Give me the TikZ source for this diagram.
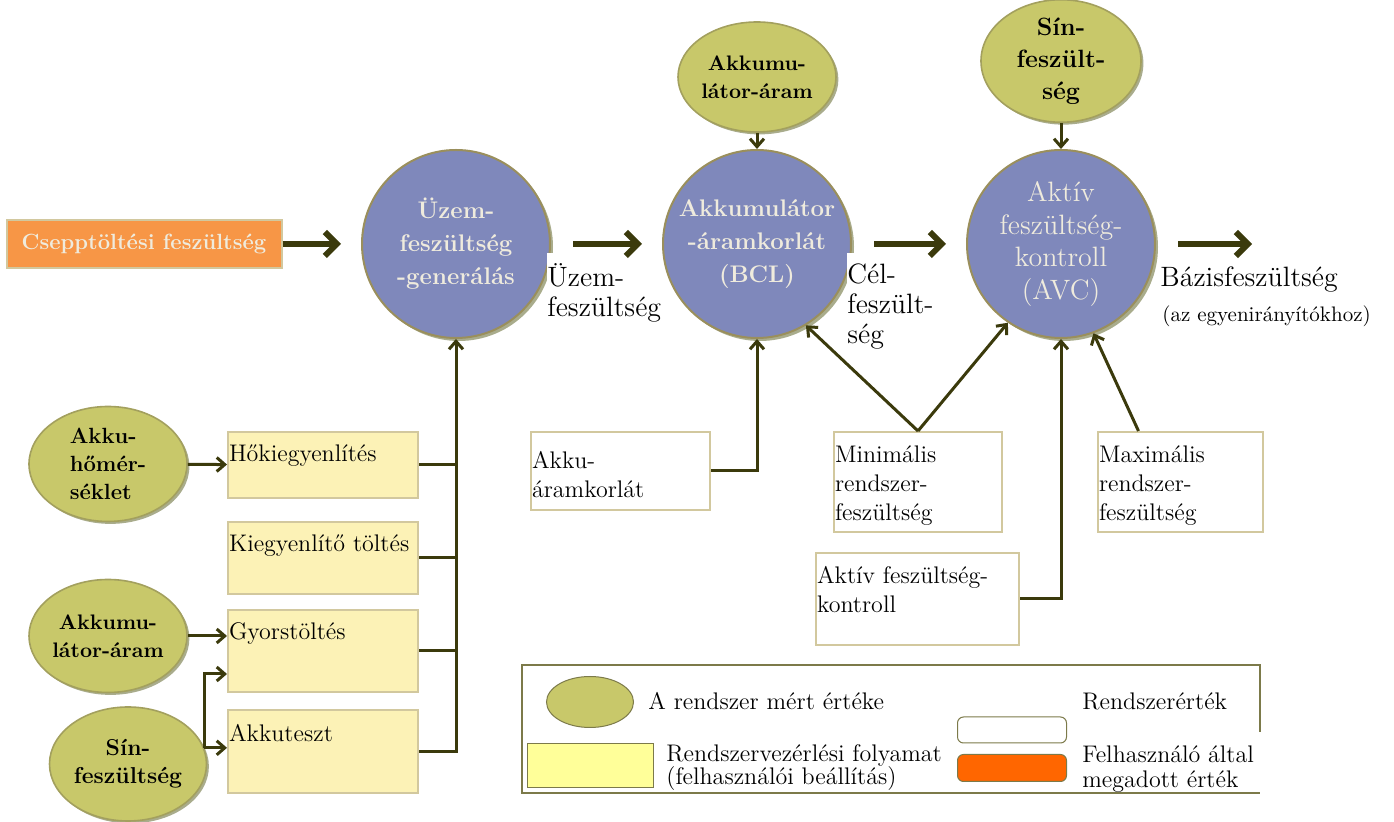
\documentclass[tikz,border=0pt]{standalone}
\usepackage{fontspec}
\usetikzlibrary{positioning,shapes.geometric,shadows,arrows.meta}

\definecolor{arrowc}{HTML}{3B3A0C}
\definecolor{procfill}{HTML}{7F88BB}
\definecolor{procedge}{HTML}{9A8F5C}
\definecolor{proctext}{HTML}{EFEBDD}
\definecolor{measfill}{HTML}{C8C86A}
\definecolor{measedge}{HTML}{A3A05E}
\definecolor{shadowc}{HTML}{A9AC8C}
\definecolor{userfill}{HTML}{F79646}
\definecolor{ctrlfill}{HTML}{FCF2B6}
\definecolor{boxedge}{HTML}{D2C89E}
\definecolor{legedge}{HTML}{7C7A4A}
\definecolor{legyellow}{HTML}{FFFF99}
\definecolor{legorange}{HTML}{FF6600}

\newcommand{\boxtext}[4]{\parbox[c][#2][t]{#1}{\raggedright\vspace*{#3}#4}}
\newcommand{\boxfont}{\fontsize{12}{14.5}\selectfont}
\newcommand{\lblfont}{\fontsize{14}{15}\selectfont}
\newcommand{\legfont}{\fontsize{12}{12.5}\selectfont}

\tikzset{
  proc/.style={circle, fill=procfill, draw=procedge, line width=1pt, minimum size=94pt,
    inner sep=0pt, text=proctext, align=center,
    drop shadow={shadow xshift=1.5pt, shadow yshift=-1.5pt, fill=shadowc, opacity=1}},
  meas/.style={ellipse, fill=measfill, draw=measedge, line width=0.8pt, inner sep=0pt,
    align=center, font=\fontsize{11}{14}\selectfont\bfseries,
    drop shadow={shadow xshift=1.2pt, shadow yshift=-1.2pt, fill=shadowc, opacity=1}},
  userval/.style={rectangle, fill=userfill, draw=boxedge, line width=1pt, text=proctext,
    font=\fontsize{11}{13}\selectfont\bfseries},
  ctrl/.style={rectangle, fill=ctrlfill, draw=boxedge, line width=1pt, anchor=north west,
    inner xsep=0.5pt, inner ysep=0pt, font=\boxfont},
  sysval/.style={rectangle, fill=white, draw=boxedge, line width=1pt, anchor=north west,
    inner xsep=0.5pt, inner ysep=0pt, font=\boxfont},
  lbl/.style={font=\lblfont, align=left, fill=white, inner xsep=0pt, inner ysep=5pt, anchor=north west},
  conn/.style={draw=arrowc, line width=1.5pt},
  smallarrow/.style={conn, -{Straight Barb[length=4pt,width=7pt]}},
  bigarrow/.style={draw=arrowc, line width=3pt, -{Straight Barb[length=6pt,width=12pt]}},
  legtext/.style={font=\legfont, anchor=base west, inner sep=0pt}
}

\begin{document}
\begin{tikzpicture}[x=0.5pt,y=-0.5pt]
\useasboundingbox (0,0) rectangle (1394,822);

\node[proc, font=\fontsize{12}{16.5}\selectfont\bfseries] (gen) at (456,244) {Üzem-\\feszültség\\-generálás};
\node[proc, font=\fontsize{12}{16.5}\selectfont\bfseries] (bcl) at (757,244) {Akkumulátor\\-áramkorlát\\(BCL)};
\node[proc, font=\fontsize{14}{16.3}\selectfont] (avc) at (1061,244) {Aktív\\feszültség-\\kontroll\\(AVC)};

\node[meas, minimum width=79pt, minimum height=55pt, font=\fontsize{10.5}{14}\selectfont\bfseries] (akkutop) at (757,77) {Akkumu-\\látor-áram};
\node[meas, minimum width=80pt, minimum height=56pt, font=\fontsize{12.5}{16}\selectfont\bfseries] (sintop) at (1061,61) {Sín-\\feszült-\\ség};
\node[meas, minimum width=79pt, minimum height=57.5pt, align=left] (hom) at (108,464) {Akku-\\hőmér-\\séklet};
\node[meas, minimum width=79pt, minimum height=56.5pt, font=\fontsize{10.5}{14}\selectfont\bfseries] (aram) at (108,636) {Akkumu-\\látor-áram};
\node[meas, minimum width=78.5pt, minimum height=57pt, font=\fontsize{11.5}{14}\selectfont\bfseries] (sinl) at (128,764) {Sín-\\feszültség};

\node[userval, minimum width=137.5pt, minimum height=24pt] (csep) at (144,244) {Csepptöltési feszültség};

\node[ctrl] (hok) at (227,431) {\boxtext{94pt}{33pt}{6.5pt}{Hőkiegyenlítés}};
\node[ctrl] (kieg) at (227,521) {\boxtext{94pt}{36pt}{6.5pt}{Kiegyenlítő töltés}};
\node[ctrl] (gyors) at (227,609) {\boxtext{94pt}{41pt}{6.5pt}{Gyorstöltés}};
\node[ctrl] (teszt) at (227,709) {\boxtext{94pt}{41.5pt}{7pt}{Akkuteszt}};

\node[sysval] (lim) at (530,431) {\boxtext{88.5pt}{39pt}{9.5pt}{Akku-\\áramkorlát}};
\node[sysval] (minv) at (833,431) {\boxtext{83pt}{50pt}{7pt}{Minimális\\rendszer-\\feszültség}};
\node[sysval] (maxv) at (1097,431) {\boxtext{81.5pt}{50pt}{7pt}{Maximális\\rendszer-\\feszültség}};
\node[sysval] (avck) at (815,552) {\boxtext{100.5pt}{46pt}{6.5pt}{Aktív feszültség-\\kontroll}};

\node[lbl] (uzlab) at (547,253) {Üzem-\\feszültség};
\node[lbl] (cellab) at (847,253) {Cél-\\feszült-\\ség};
\node[font=\lblfont, anchor=base west, inner sep=0pt] (baslab) at (1160,287) {Bázisfeszültség};
\node[font=\fontsize{10.5}{12}\selectfont, anchor=base west, inner sep=0pt] (basnote) at (1162,322) {(az egyenirányítókhoz)};

\coordinate (out) at (1252,244);
\draw[bigarrow, shorten >=10pt] (csep) -- (gen);
\draw[bigarrow, shorten <=11pt, shorten >=10pt] (gen) -- (bcl);
\draw[bigarrow, shorten <=11pt, shorten >=10pt] (bcl) -- (avc);
\draw[bigarrow, shorten <=11pt] (avc) -- (out);

\draw[smallarrow] (akkutop) -- (bcl);
\draw[smallarrow] (sintop) -- (avc);

\draw[smallarrow] (hom) -- (hok);
\draw[smallarrow] (aram.east) -- (aram.east -| gyors.west);
\draw[smallarrow] (sinl.12) -- (sinl.12 -| teszt.west);
\draw[smallarrow] (sinl.12) |- ([yshift=-11.5pt]gyors.west);

\draw[smallarrow] (teszt.east) -| (gen.south);
\draw[conn] (hok.east) -- (hok.east -| gen.south);
\draw[conn] (kieg.east) -- (kieg.east -| gen.south);
\draw[conn] (gyors.east) -- (gyors.east -| gen.south);

\draw[smallarrow] (lim.east) -| (bcl.south);
\draw[smallarrow] (minv.north) -- (bcl.-59);
\draw[smallarrow] (minv.north) -- (avc.-124);
\draw[smallarrow] ([xshift=-21pt]maxv.north) -- (avc.-70);
\draw[smallarrow] (avck.east) -| (avc.south);

\draw[legedge, line width=0.6pt] (1260,732) -- (1260,665) -- (522,665) -- (522,793) -- (1260,793);
\node[ellipse, fill=measfill, draw=legedge, line width=0.5pt, minimum width=43.5pt, minimum height=25.5pt] (legmeas) at (590,702) {};
\node[rectangle, fill=legyellow, draw=legedge, line width=0.5pt, minimum width=63pt, minimum height=22pt] (legctrl) at (590,766) {};
\node[rectangle, rounded corners=3pt, fill=white, draw=legedge, line width=0.5pt, minimum width=54.5pt, minimum height=13pt] (legval) at (1012,730) {};
\node[rectangle, rounded corners=3pt, fill=legorange, draw=legedge, line width=0.5pt, minimum width=54.5pt, minimum height=13.5pt] (leguser) at (1012,768) {};
\node[legtext] (legmeastxt) at (648,710) {A rendszer mért értéke};
\node[legtext] (legctrltxt) at (666,762) {Rendszervezérlési folyamat};
\node[legtext] (legctrltxt2) at (666,785) {(felhasználói beállítás)};
\node[legtext] (legvaltxt) at (1082,710) {Rendszerérték};
\node[legtext] (legusertxt) at (1082,763) {Felhasználó által};
\node[legtext] (legusertxt2) at (1082,788) {megadott érték};
\end{tikzpicture}
\end{document}
